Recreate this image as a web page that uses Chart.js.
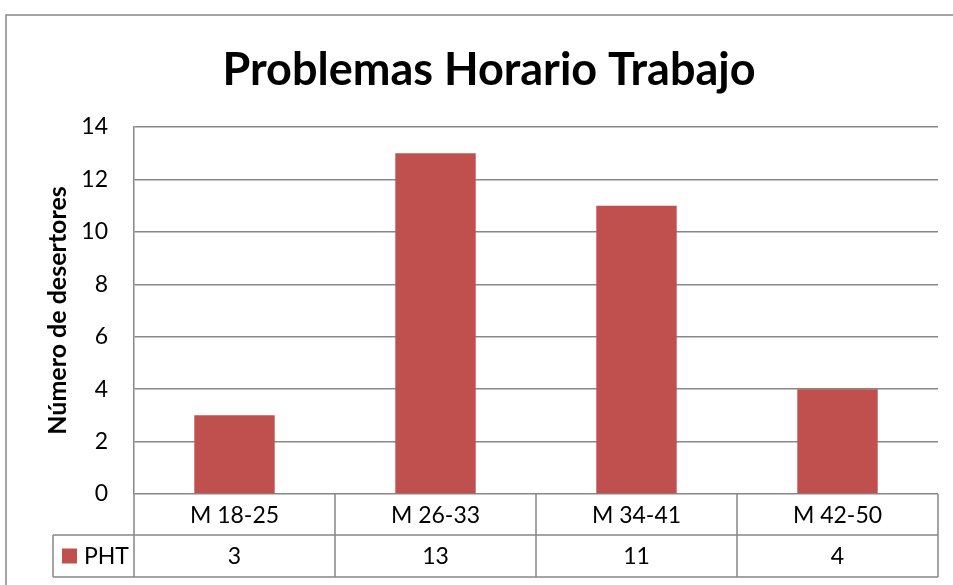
<!DOCTYPE html>
<html>
<head>
<meta charset="utf-8">
<script src="https://cdn.jsdelivr.net/npm/chart.js@4/dist/chart.umd.min.js"></script>
<style>
  html, body { margin: 0; padding: 0; background: #fff; }
  #wrap { width: 953px; height: 585px; }
</style>
</head>
<body>
<div id="wrap"><canvas id="chart" width="953" height="585"></canvas></div>
<script>
// Datos del gráfico
const categorias = ['M 18-25', 'M 26-33', 'M 34-41', 'M 42-50'];
const valoresPHT = [3, 13, 11, 4];
const nombreSerie = 'PHT';
const titulo = 'Problemas Horario Trabajo';
const tituloEjeY = 'Número de desertores';

const FUENTE = 'Lato, "Open Sans", sans-serif';
const GRIS = '#878787';
const ROJO = '#C0504D';

// Plugin: borde exterior y tabla de datos bajo el gráfico
const tablaDatos = {
    id: 'tablaDatos',
    afterDraw(chart) {
        const ctx = chart.ctx;
        const area = chart.chartArea;
        const x = chart.scales.x;
        const paso = x.getPixelForValue(1) - x.getPixelForValue(0);
        const fila1 = area.bottom;
        const fila2 = fila1 + 41;
        const fila3 = fila2 + 42;
        const izqLeyenda = 53;

        ctx.save();
        ctx.strokeStyle = GRIS;
        ctx.lineWidth = 1.5;

        // borde exterior
        ctx.beginPath();
        ctx.moveTo(6, 585);
        ctx.lineTo(6, 15);
        ctx.lineTo(953, 15);
        ctx.stroke();

        // lineas horizontales de la tabla
        ctx.beginPath();
        ctx.moveTo(izqLeyenda, fila2);
        ctx.lineTo(area.right, fila2);
        ctx.moveTo(izqLeyenda, fila3);
        ctx.lineTo(area.right, fila3);
        ctx.moveTo(izqLeyenda, fila2);
        ctx.lineTo(izqLeyenda, fila3);
        ctx.stroke();

        // lineas verticales
        ctx.beginPath();
        for (let i = 0; i <= categorias.length; i++) {
            const px = x.getPixelForValue(i) - paso / 2;
            ctx.moveTo(px, fila1);
            ctx.lineTo(px, fila3);
        }
        ctx.stroke();

        // textos
        ctx.fillStyle = '#000';
        ctx.font = '23px ' + FUENTE;
        ctx.textAlign = 'center';
        ctx.textBaseline = 'middle';
        categorias.forEach(function (cat, i) {
            const cx = x.getPixelForValue(i);
            ctx.fillText(cat, cx, (fila1 + fila2) / 2 + 1);
            ctx.fillText(String(valoresPHT[i]), cx, (fila2 + fila3) / 2 + 1);
        });

        // leyenda
        ctx.fillStyle = ROJO;
        ctx.fillRect(62, (fila2 + fila3) / 2 - 7.5, 15, 15);
        ctx.fillStyle = '#000';
        ctx.textAlign = 'left';
        ctx.fillText(nombreSerie, 84, (fila2 + fila3) / 2 + 1);
        ctx.restore();
    }
};

let ctx = document.getElementById('chart').getContext('2d');
let chart = new Chart(ctx, {
    type: 'bar',
    data: {
        labels: categorias,
        datasets: [{
            label: nombreSerie,
            data: valoresPHT,
            backgroundColor: ROJO,
            borderWidth: 0,
            categoryPercentage: 1,
            barPercentage: 0.4
        }]
    },
    options: {
        responsive: false,
        animation: false,
        layout: {
            padding: { top: 20, right: 15, bottom: 91, left: 40 }
        },
        plugins: {
            legend: { display: false },
            tooltip: { enabled: false },
            title: {
                display: true,
                text: titulo,
                color: '#000',
                font: { family: FUENTE, size: 45, weight: 'bold' },
                padding: { top: 23, bottom: 30 }
            }
        },
        scales: {
            x: {
                display: false
            },
            y: {
                min: 0,
                max: 14,
                ticks: {
                    stepSize: 2,
                    color: '#000',
                    padding: 26,
                    font: { family: FUENTE, size: 23 }
                },
                grid: {
                    color: GRIS,
                    lineWidth: 1.5,
                    drawTicks: false
                },
                border: { display: true, color: GRIS, width: 1.5 },
                title: {
                    display: true,
                    text: tituloEjeY,
                    color: '#000',
                    font: { family: FUENTE, size: 25, weight: 'bold' },
                    padding: { top: 3, bottom: 0 }
                },
                afterFit: function (scale) { scale.width = 94; }
            }
        }
    },
    plugins: [tablaDatos]
});
</script>
</body>
</html>
